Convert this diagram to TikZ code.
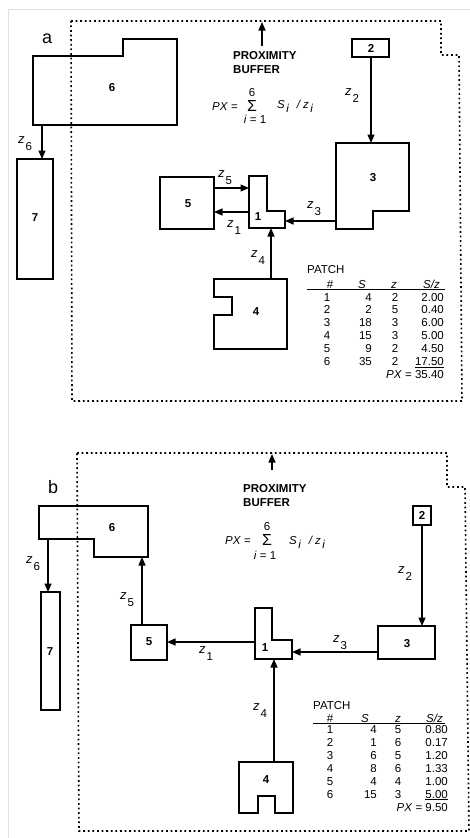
\documentclass[tikz,border=0pt]{standalone}
\usepackage{fontspec}
\setmainfont{Liberation Sans}
\usetikzlibrary{arrows.meta}

\newcommand\zlab[1]{{\fontsize{13}{13}\selectfont\itshape z}\hspace{1pt}\raisebox{-7.5pt}{#1}}
\newcommand\sumpart{{\itshape S\hspace{1.5pt}\raisebox{-4pt}{i}\hspace{8pt}/\hspace{3pt}z\hspace{1.5pt}\raisebox{-4pt}{i}}}

\begin{document}
\begin{tikzpicture}[x=1pt,y=-1pt,
  patch/.style={line width=1.4pt},
  flow/.style={line width=1.3pt,-{Triangle[length=8.5pt,width=7pt]}},
  buffer/.style={line width=1.6pt,dash pattern=on 1.8pt off 2.8pt},
  num/.style={inner sep=0pt,font=\fontsize{11.5}{12}\selectfont\bfseries},
  zl/.style={anchor=base west,inner sep=0pt,font=\fontsize{11.5}{12}\selectfont},
  cell/.style={inner sep=0pt,font=\fontsize{11.5}{12}\selectfont},
  bufftext/.style={anchor=base west,inner sep=0pt,font=\fontsize{11.5}{14}\selectfont\bfseries}]
  \useasboundingbox (0,0) rectangle (470,838);
  \draw[gray!25,line width=0.8pt] (8,838) -- (8,9) -- (470,9);

  % Panel a: the buffer round patch 1.
  \draw[buffer] (71,21) -- (441,21) -- (441,55) -- (459,55) -- (462,401) -- (72,401) -- cycle;
  \node[anchor=base west,inner sep=0pt,font=\fontsize{18}{18}\selectfont] (alab) at (42,43) {a};
  \node[bufftext] (abuf1) at (233,59) {PROXIMITY};
  \node[bufftext] (abuf2) at (233,73) {BUFFER};
  \coordinate (abase) at (262,46);
  \coordinate (atip) at (262,22);
  \draw[flow] (abase) -- (atip);
  % The sum.
  \node[cell,anchor=base west] (apx) at (212,110) {\textit{PX} =};
  \node[inner sep=0pt,font=\fontsize{16}{16}\selectfont] (asig) at (252,106) {Σ};
  \node[cell] (atop) at (252,93) {6};
  \node[cell] (abot) at (255,119.5) {\textit{i} = 1};
  \node[cell,anchor=base west] (asum) at (277,108) {\sumpart};
  % The patches.
  \draw[patch] (33,56) -- (123,56) -- (123,39) -- (177,39) -- (177,125) -- (33,125) -- cycle;
  \draw[patch] (17,159) rectangle (53,279);
  \draw[patch] (160,177) rectangle (214,229);
  \draw[patch] (249,176) -- (267,176) -- (267,211) -- (285,211) -- (285,228) -- (249,228) -- cycle;
  \draw[patch] (336,143) -- (409,143) -- (409,211) -- (373,211) -- (373,229) -- (336,229) -- cycle;
  \draw[patch] (352,39) rectangle (389,57);
  \draw[patch] (214,279) -- (287,279) -- (287,349) -- (214,349) -- (214,315) -- (232,315) -- (232,297) -- (214,297) -- cycle;
  \node[num] (a6) at (112,88) {6};
  \node[num] (a7) at (35,218) {7};
  \node[num] (a5) at (188,204) {5};
  \node[num] (a1) at (258,217) {1};
  \node[num] (a3) at (373,178) {3};
  \node[num] (a2) at (371,48) {2};
  \node[num] (a4) at (256,312) {4};
  % The distances.
  \coordinate (a6s) at (42,125);  \coordinate (a7n) at (42,159);
  \coordinate (a5e) at (214,188); \coordinate (a1w) at (249,188);
  \coordinate (a1x) at (249,212); \coordinate (a5x) at (214,212);
  \coordinate (a3w) at (336,221); \coordinate (a1e) at (285,221);
  \coordinate (a4n) at (271,279); \coordinate (a1s) at (271,228);
  \coordinate (a2s) at (371,57);  \coordinate (a3n) at (371,143);
  \draw[flow] (a6s) -- (a7n);
  \draw[flow] (a5e) -- (a1w);
  \draw[flow] (a1x) -- (a5x);
  \draw[flow] (a3w) -- (a1e);
  \draw[flow] (a4n) -- (a1s);
  \draw[flow] (a2s) -- (a3n);
  \node[zl] (az6) at (18,143) {\zlab{6}};
  \node[zl] (az5) at (218,177) {\zlab{5}};
  \node[zl] (az1) at (227,227) {\zlab{1}};
  \node[zl] (az4) at (251,257) {\zlab{4}};
  \node[zl] (az3) at (307,208) {\zlab{3}};
  \node[zl] (az2) at (345,95) {\zlab{2}};
  % The table.
  \node[cell,anchor=base west] (apatch) at (307,273) {PATCH};
  \node[cell,anchor=base] (ahn) at (330,288) {\#};
  \node[cell,anchor=base] (ahs) at (362,288) {\textit{S}};
  \node[cell,anchor=base] (ahz) at (394,288) {\textit{z}};
  \node[cell,anchor=base east] (ahr) at (440,288) {\textit{S/z}};
  \draw[line width=0.9pt] (307,289.5) -- (445,289.5);
  \foreach \n/\s/\z/\r [count=\k] in {1/4/2/2.00,2/2/5/0.40,3/18/3/6.00,4/15/3/5.00,5/9/2/4.50,6/35/2/17.50} {
    \node[cell,anchor=base] (an\k) at (327,288.1+12.9*\k) {\n};
    \node[cell,anchor=base east] (as\k) at (372,288.1+12.9*\k) {\s};
    \node[cell,anchor=base] (az\k) at (395,288.1+12.9*\k) {\z};
    \node[cell,anchor=base east] (ar\k) at (444,288.1+12.9*\k) {\r};
  }
  \draw[line width=0.9pt] ([yshift=-1.5pt]ar6.south west) -- ([yshift=-1.5pt]ar6.south east);
  \node[cell,anchor=base east] (apxt) at (444,378) {\textit{PX} = 35.40};

  % Panel b: the same buffer, other distances.
  \draw[buffer] (77,453) -- (447,453) -- (447,487) -- (465,487) -- (469,831) -- (79,831) -- cycle;
  \node[anchor=base west,inner sep=0pt,font=\fontsize{18}{18}\selectfont] (blab) at (48,493) {b};
  \node[bufftext] (bbuf1) at (243,492) {PROXIMITY};
  \node[bufftext] (bbuf2) at (243,506) {BUFFER};
  \coordinate (bbase) at (272,470);
  \coordinate (btip) at (272,454);
  \draw[flow] (bbase) -- (btip);
  % The sum.
  \node[cell,anchor=base west] (bpx) at (225,544) {\textit{PX} =};
  \node[inner sep=0pt,font=\fontsize{16}{16}\selectfont] (bsig) at (267,540) {Σ};
  \node[cell] (btop) at (267,527) {6};
  \node[cell] (bbot) at (265,555.5) {\textit{i} = 1};
  \node[cell,anchor=base west] (bsum) at (289,544) {\sumpart};
  % The patches.
  \draw[patch] (39,506) -- (148,506) -- (148,557) -- (94,557) -- (94,539) -- (39,539) -- cycle;
  \draw[patch] (41,592) rectangle (60,710);
  \draw[patch] (131,625) rectangle (167,660);
  \draw[patch] (255,608) -- (272,608) -- (272,640) -- (292,640) -- (292,659) -- (255,659) -- cycle;
  \draw[patch] (378,626) rectangle (435,659);
  \draw[patch] (413,506) rectangle (431,525);
  \draw[patch] (239,762) -- (293,762) -- (293,813) -- (275,813) -- (275,796) -- (258,796) -- (258,813) -- (239,813) -- cycle;
  \node[num] (b6) at (112,528) {6};
  \node[num] (b7) at (50,652) {7};
  \node[num] (b5) at (149,642) {5};
  \node[num] (b1) at (265,648) {1};
  \node[num] (b3) at (407,644) {3};
  \node[num] (b2) at (422,515.5) {2};
  \node[num] (b4) at (266,780) {4};
  % The distances.
  \coordinate (b6s) at (48,539);  \coordinate (b7n) at (48,592);
  \coordinate (b5n) at (142,625); \coordinate (b6x) at (142,557);
  \coordinate (b1w) at (255,642); \coordinate (b5e) at (167,642);
  \coordinate (b3w) at (378,652); \coordinate (b1e) at (292,652);
  \coordinate (b4n) at (274,762); \coordinate (b1s) at (274,659);
  \coordinate (b2s) at (422,525); \coordinate (b3n) at (422,626);
  \draw[flow] (b6s) -- (b7n);
  \draw[flow] (b5n) -- (b6x);
  \draw[flow] (b1w) -- (b5e);
  \draw[flow] (b3w) -- (b1e);
  \draw[flow] (b4n) -- (b1s);
  \draw[flow] (b2s) -- (b3n);
  \node[zl] (bz6) at (26,563) {\zlab{6}};
  \node[zl] (bz5) at (120,599) {\zlab{5}};
  \node[zl] (bz1) at (199,653) {\zlab{1}};
  \node[zl] (bz4) at (253,710) {\zlab{4}};
  \node[zl] (bz3) at (333,642) {\zlab{3}};
  \node[zl] (bz2) at (398,573) {\zlab{2}};
  % The table.
  \node[cell,anchor=base west] (bpatch) at (313,709) {PATCH};
  \node[cell,anchor=base] (bhn) at (330,722) {\#};
  \node[cell,anchor=base] (bhs) at (365,722) {\textit{S}};
  \node[cell,anchor=base] (bhz) at (398,722) {\textit{z}};
  \node[cell,anchor=base east] (bhr) at (443,722) {\textit{S/z}};
  \draw[line width=0.9pt] (313,723.5) -- (445,723.5);
  \foreach \n/\s/\z/\r [count=\k] in {1/4/5/0.80,2/1/6/0.17,3/6/5/1.20,4/8/6/1.33,5/4/4/1.00,6/15/3/5.00} {
    \node[cell,anchor=base] (bn\k) at (330,720+13*\k) {\n};
    \node[cell,anchor=base east] (bs\k) at (377,720+13*\k) {\s};
    \node[cell,anchor=base] (bz\k) at (398,720+13*\k) {\z};
    \node[cell,anchor=base east] (br\k) at (448,720+13*\k) {\r};
  }
  \draw[line width=0.9pt] ([yshift=-1.5pt]br6.south west) -- ([yshift=-1.5pt]br6.south east);
  \node[cell,anchor=base east] (bpxt) at (448,811) {\textit{PX} = 9.50};
\end{tikzpicture}
\end{document}
